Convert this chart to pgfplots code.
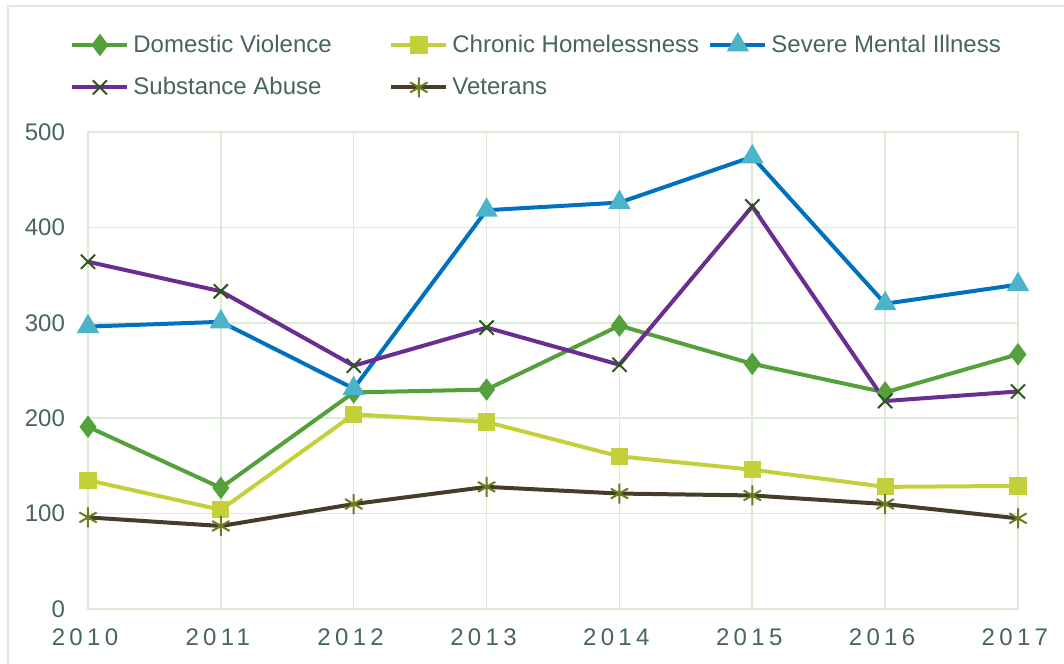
\documentclass[border=0pt]{standalone}
\usepackage{fontspec}
\setmainfont{Liberation Sans}
\newfontfamily\spaced[LetterSpace=18]{Liberation Sans}
\usepackage{pgfplots}
\pgfplotsset{compat=1.18}

\definecolor{gridc}{RGB}{220,236,212}
\definecolor{txt}{RGB}{70,102,88}
\definecolor{dvc}{RGB}{84,160,58}
\definecolor{chc}{RGB}{196,208,58}
\definecolor{smil}{RGB}{0,112,192}
\definecolor{smim}{RGB}{75,180,200}
\definecolor{sal}{RGB}{106,46,145}
\definecolor{sam}{RGB}{45,85,30}
\definecolor{vetl}{RGB}{70,60,42}
\definecolor{vetm}{RGB}{110,122,30}

\begin{document}
\begin{tikzpicture}
\begin{axis}[
    scale only axis,
    width=465pt, height=238.5pt,
    xmin=2010, xmax=2017,
    ymin=0, ymax=500,
    xtick={2010,...,2017},
    ytick={0,100,...,500},
    xticklabels={2010,2011,2012,2013,2014,2015,2016,2017},
    xticklabel style={font=\spaced\fontsize{12}{14}\selectfont, text=txt, yshift=-6.5pt, xshift=-1.5pt},
    yticklabel style={font=\fontsize{12}{14}\selectfont, text=txt, xshift=-8pt},
    /pgf/number format/assume math mode=true,
    major tick length=0pt,
    grid=major,
    grid style={gridc, line width=0.75pt},
    axis line style={gridc, line width=0.75pt},
    clip=false,
    legend columns=3,
    legend cell align=left,
    legend style={
        at={(axis description cs:-0.0172,1)}, anchor=south west,
        xshift=-4pt, yshift=13pt,
        draw=none, fill=none,
        font=\fontsize{12}{14}\selectfont,
        text=txt,
        row sep=7pt,
        /tikz/every even column/.append style={column sep=0pt},
        nodes={inner xsep=2pt},
    },
    legend image code/.code={\draw[mark repeat=2,mark phase=2] plot coordinates {(0pt,0pt)(13.75pt,0pt)(27.5pt,0pt)};},
]
\addplot[dvc, line width=2pt, mark=diamond*, mark size=4pt, mark options={solid, fill=dvc, draw=dvc}]
  coordinates {(2010,191) (2011,127) (2012,227) (2013,230) (2014,297) (2015,257) (2016,227) (2017,267)};
\addlegendentry{\makebox[126pt][l]{Domestic Violence}}
\addplot[chc, line width=2pt, mark=square*, mark size=3.3pt, mark options={solid, fill=chc, draw=chc}]
  coordinates {(2010,135) (2011,104) (2012,204) (2013,196) (2014,160) (2015,146) (2016,128) (2017,129)};
\addlegendentry{\makebox[126pt][l]{Chronic Homelessness}}
\addplot[smil, line width=2pt, mark=triangle*, mark size=4.5pt, mark options={solid, fill=smim, draw=smim}]
  coordinates {(2010,296) (2011,301) (2012,231) (2013,418) (2014,426) (2015,474) (2016,320) (2017,340)};
\addlegendentry{Severe Mental Illness}
\addplot[sal, line width=2pt, mark=x, mark size=5pt, mark options={solid, draw=sam, line width=1pt}]
  coordinates {(2010,364) (2011,333) (2012,255) (2013,295) (2014,256) (2015,422) (2016,218) (2017,228)};
\addlegendentry{\makebox[126pt][l]{Substance Abuse}}
\addplot[vetl, line width=2pt, mark=asterisk, mark size=5pt, mark options={solid, draw=vetm, line width=1pt}]
  coordinates {(2010,96) (2011,87) (2012,110) (2013,128) (2014,121) (2015,119) (2016,110) (2017,95)};
\addlegendentry{\makebox[126pt][l]{Veterans}}
% chart border (left and top edges visible)
\draw[gridc, line width=0.75pt] ([xshift=-40pt]axis description cs:0,-0.2) -- ([xshift=-40pt,yshift=63pt]axis description cs:0,1) -- ([xshift=40pt,yshift=63pt]axis description cs:1,1);
\end{axis}
\pgfresetboundingbox
\path[use as bounding box] ([xshift=-44pt,yshift=-27.5pt]current axis.south west) rectangle ([xshift=23pt,yshift=66pt]current axis.north east);
\end{tikzpicture}
\end{document}
